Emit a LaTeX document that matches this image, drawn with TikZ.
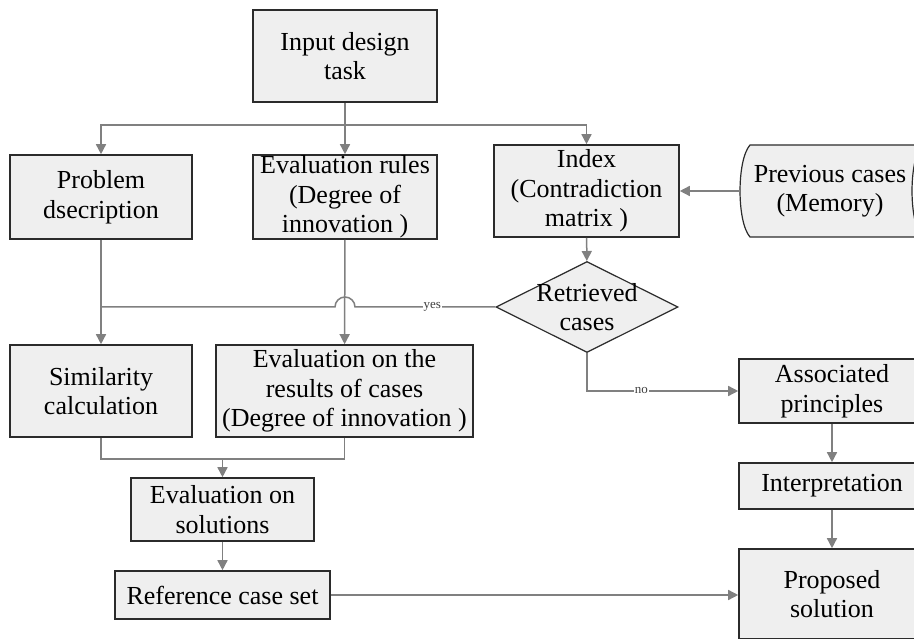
\documentclass[tikz,border=0pt]{standalone}
\usepackage{fontspec}
\setmainfont{Liberation Serif}
\usetikzlibrary{arrows.meta,shapes.geometric}
\definecolor{boxfill}{HTML}{EFEFEF}
\definecolor{boxline}{HTML}{2B2B2B}
\definecolor{flowline}{HTML}{808080}

\begin{document}
\begin{tikzpicture}[x=1pt, y=-1pt,
	every node/.style={font=\fontsize{26}{29.5}\selectfont, align=center, inner sep=0.5pt},
	box/.style={rectangle, draw=boxline, line width=1.6pt, fill=boxfill},
	decision/.style={diamond, draw=boxline, line width=1.2pt, fill=boxfill, inner sep=0pt, minimum width=182pt, minimum height=91pt},
	link/.style={draw=flowline, line width=1.5pt},
	flow/.style={link, -{Triangle[length=10pt,width=10pt]}},
	lbl/.style={font=\fontsize{13}{13}\selectfont, text=black!75, fill=white, inner sep=1pt}]
	\useasboundingbox (0,0) rectangle (914,639);
	\clip (0,0) rectangle (914,639);
	\node[box, minimum width=184pt, minimum height=92pt] (input) at (345,56) {Input design\\task};
	\node[box, minimum width=182pt, minimum height=84pt] (prob) at (101,197) {Problem\\dsecription};
	\node[box, minimum width=184pt, minimum height=84pt] (eval) at (345,197) {Evaluation rules\\(Degree of\\innovation )};
	\node[box, minimum width=185pt, minimum height=92pt] (index) at (586.5,191) {Index\\(Contradiction\\matrix )};
	\draw[boxline, line width=1.2pt, fill=boxfill] (750,145) .. controls (736.7,160) and (736.7,222) .. (750,237) -- (922,237) .. controls (908.7,222) and (908.7,160) .. (922,145) -- cycle;
	\node (mem) at (830,191) {Previous cases\\(Memory)};
	\node[decision, label={[align=center]center:Retrieved\\cases}] (ret) at (587,307) {};
	\node[box, minimum width=182pt, minimum height=92pt] (sim) at (101,391) {Similarity\\calculation};
	\node[box, minimum width=257pt, minimum height=92pt] (evres) at (344.5,391) {Evaluation on the\\results of cases\\(Degree of innovation )};
	\node[box, minimum width=183pt, minimum height=63pt] (evsol) at (222.5,509.5) {Evaluation on\\solutions};
	\node[box, minimum width=215pt, minimum height=48pt] (ref) at (222.5,595) {Reference case set};
	\node[box, minimum width=186pt, minimum height=64pt] (assoc) at (832,391) {Associated\\principles};
	\node[box, minimum width=186pt, minimum height=46pt] (interp) at (832,486) {Interpretation};
	\node[box, minimum width=186pt, minimum height=90pt] (prop) at (832,594) {Proposed\\solution};
	\coordinate (split) at (345,125);
	\coordinate (join) at (222.5,459);
	\draw[flow] (input) -- (eval);
	\draw[flow] (split) -| (prob.north);
	\draw[flow] (split) -| (index.north);
	\draw[flow] (prob) -- (sim);
	\draw[flow] (eval) -- (evres);
	\draw[flow] (mem.west -| 740,0) -- (index.east);
	\draw[flow] (index) -- (ret);
	\draw[link] (ret.west) -- node[lbl, pos=0.45]{yes} (355,307) arc[start angle=0, end angle=180, radius=10pt] -- (prob.south |- ret.west);
	\draw[flow] (ret.south) |- node[lbl, pos=0.68]{no} (assoc.west);
	\draw[link] (sim.south) |- (join);
	\draw[link] (evres.south) |- (join);
	\draw[flow] (join) -- (evsol);
	\draw[flow] (evsol) -- (ref);
	\draw[flow] (ref.east) -- (ref.east -| prop.west);
	\draw[flow] (assoc) -- (interp);
	\draw[flow] (interp) -- (prop);
\end{tikzpicture}
\end{document}
